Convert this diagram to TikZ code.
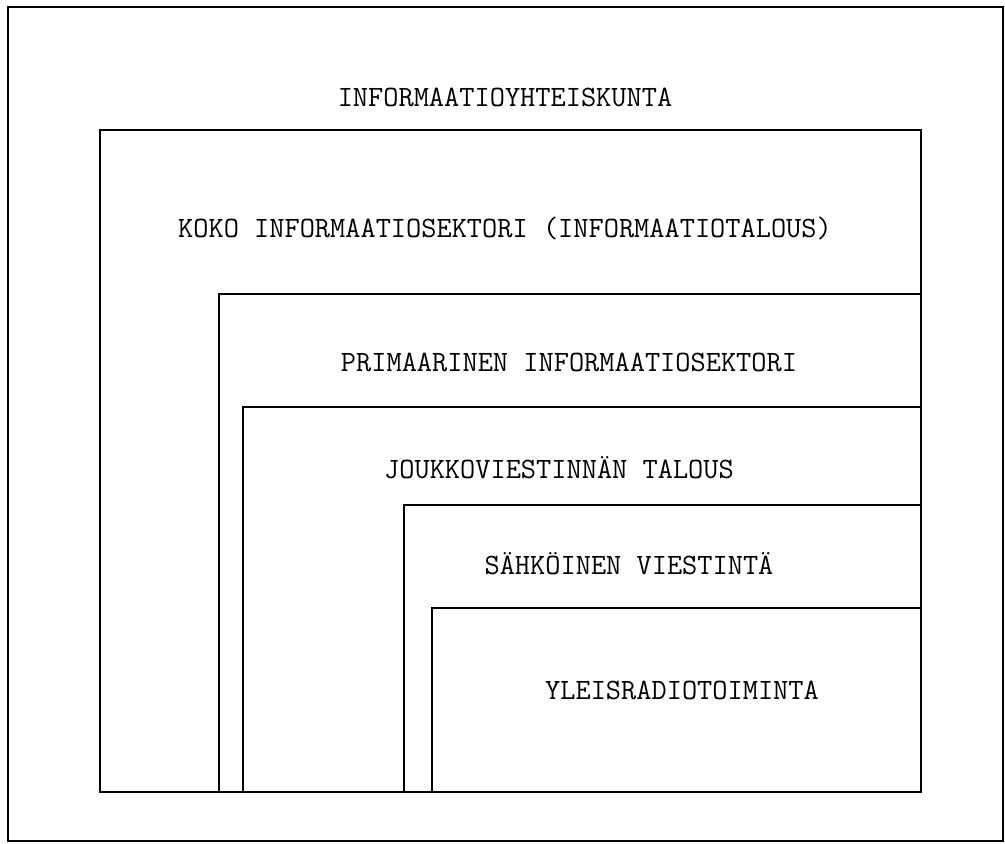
\documentclass[tikz,border=0pt]{standalone}
\usepackage{tikz}
\usetikzlibrary{positioning}
\begin{document}
\begin{tikzpicture}[
  x=0.02cm, y=-0.02cm,
  frame/.style={draw, line width=1.3pt},
  lab/.style={anchor=base, inner sep=0pt, font=\fontsize{16.8}{20}\selectfont\ttfamily}
]
\useasboundingbox (0,0) rectangle (1005,843);
% nested sectors, outermost first
\draw[frame] (8,7) rectangle (1003,841);
\draw[frame] (100,130) rectangle (921,792);
\draw[frame] (219,294) rectangle (921,792);
\draw[frame] (243,407) rectangle (921,792);
\draw[frame] (404,505) rectangle (921,792);
\draw[frame] (432,608) rectangle (921,792);

\node[lab] (society) at (505,106) {INFORMAATIOYHTEISKUNTA};
\node[lab] (infosector) at (505,237) {KOKO INFORMAATIOSEKTORI (INFORMAATIOTALOUS)};
\node[lab] (primary) at (569,371) {PRIMAARINEN INFORMAATIOSEKTORI};
\node[lab] (massmedia) at (559,478) {JOUKKOVIESTINNÄN TALOUS};
\node[lab] (electronic) at (629,574) {SÄHKÖINEN VIESTINTÄ};
\node[lab] (broadcast) at (682,699) {YLEISRADIOTOIMINTA};
\end{tikzpicture}
\end{document}
